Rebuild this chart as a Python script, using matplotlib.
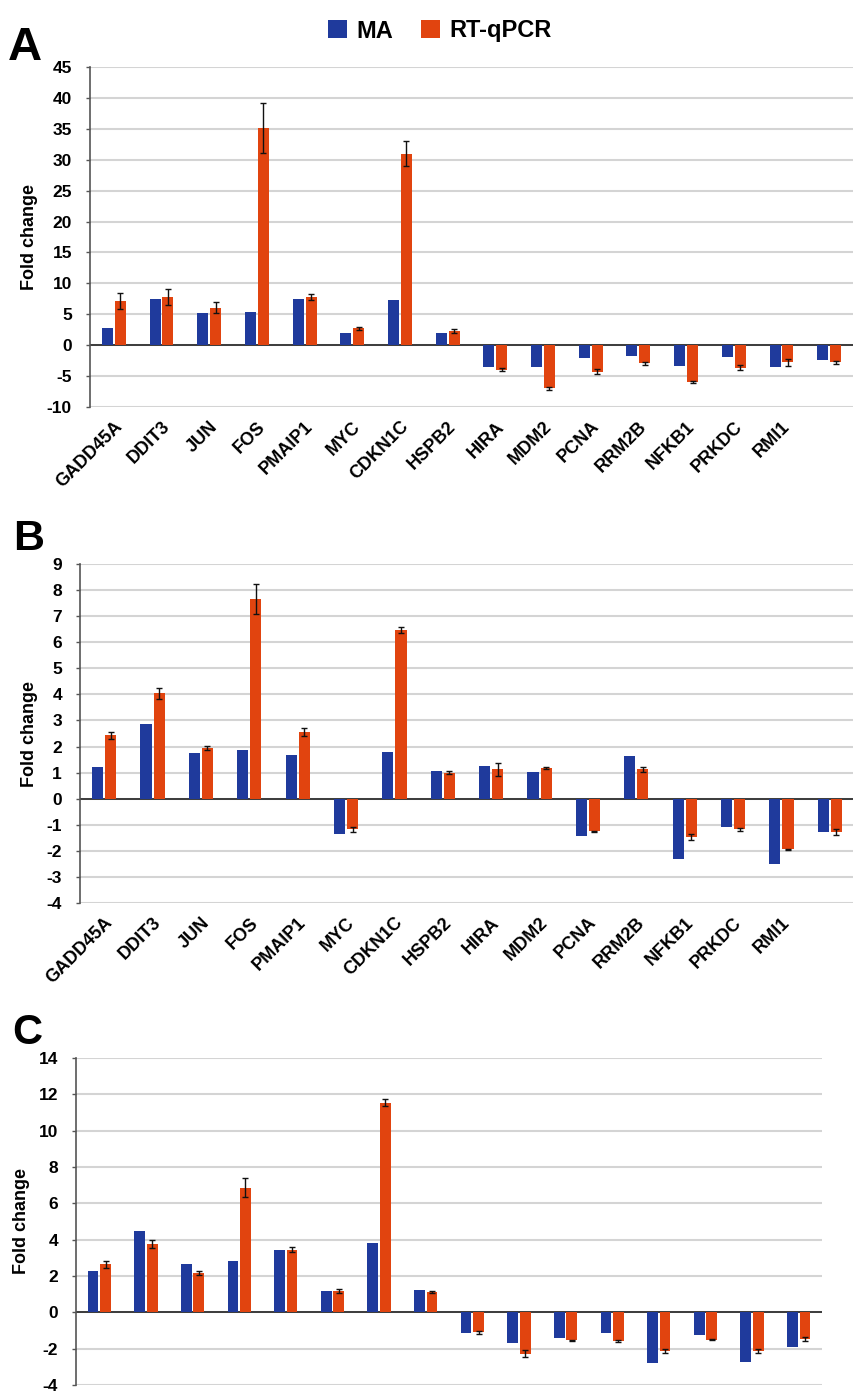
import numpy as np
import matplotlib
matplotlib.use("Agg")
import matplotlib.pyplot as plt
from matplotlib.patches import Patch

FONT = ["Liberation Sans Narrow", "Liberation Sans", "DejaVu Sans"]
plt.rcParams["font.family"] = FONT
plt.rcParams["font.weight"] = "bold"

genes = ["GADD45A", "DDIT3", "JUN", "FOS", "PMAIP1", "MYC", "CDKN1C", "HSPB2",
         "HIRA", "MDM2", "PCNA", "RRM2B", "NFKB1", "PRKDC", "RMI1", ""]

# Panel A
a_ma = [2.86, 7.44, 5.23, 5.39, 7.44, 1.94, 7.33, 2.05,
        -3.61, -3.61, -2.05, -1.72, -3.34, -1.89, -3.61, -2.32]
a_pcr = [7.17, 7.82, 6.04, 35.15, 7.82, 2.70, 31.0, 2.32,
         -3.94, -7.0, -4.31, -2.96, -5.93, -3.67, -2.8, -2.75]
a_err = [1.25, 1.27, 0.88, 4.0, 0.45, 0.2, 1.95, 0.27,
         0.3, 0.3, 0.43, 0.3, 0.2, 0.4, 0.5, 0.25]

# Panel B
b_ma = [1.21, 2.85, 1.74, 1.85, 1.67, -1.37, 1.79, 1.06,
        1.25, 1.03, -1.43, 1.63, -2.32, -1.07, -2.49, -1.26]
b_pcr = [2.43, 4.04, 1.95, 7.66, 2.55, -1.18, 6.46, 1.0,
         1.12, 1.17, -1.24, 1.12, -1.47, -1.18, -1.94, -1.28]
b_err = [0.13, 0.2, 0.08, 0.56, 0.16, 0.08, 0.11, 0.05,
         0.24, 0.03, 0.02, 0.08, 0.11, 0.06, 0.02, 0.1]

# Panel C
c_ma = [2.27, 4.45, 2.64, 2.82, 3.42, 1.18, 3.8, 1.22,
        -1.15, -1.67, -1.42, -1.15, -2.78, -1.27, -2.75, -1.89]
c_pcr = [2.64, 3.76, 2.15, 6.87, 3.45, 1.18, 11.55, 1.13,
         -1.1, -2.27, -1.55, -1.58, -2.13, -1.51, -2.13, -1.47]
c_err = [0.18, 0.22, 0.12, 0.53, 0.14, 0.13, 0.18, 0.05,
         0.1, 0.17, 0.03, 0.08, 0.12, 0.03, 0.12, 0.11]

BLUE = "#1f3a9c"
ORANGE = "#e1440f"

W, H = 854, 1394
fig = plt.figure(figsize=(W / 100, H / 100), dpi=100)


def px_axes(left, top, right, bottom):
    return fig.add_axes([left / W, 1 - bottom / H, (right - left) / W, (bottom - top) / H])


def panel(ax, ma, pcr, err, yticks, letter, letter_xy, letter_size, show_labels=True):
    x = np.arange(len(genes))
    off, bw = 0.135, 0.23
    ax.bar(x - off, ma, width=bw, color=BLUE, zorder=3)
    ax.bar(x + off, pcr, width=bw, color=ORANGE, zorder=3,
           yerr=err, error_kw=dict(ecolor="#111111", elinewidth=1.0,
                                   capsize=2.5, capthick=1.0, zorder=4))
    ax.set_xlim(-0.5, len(genes) - 0.5)
    ax.set_ylim(yticks[0], yticks[-1])
    ax.set_yticks(yticks)
    ax.set_yticklabels([str(t) for t in yticks], fontsize=12.5, fontweight="bold")
    ax.yaxis.grid(True, color="#d4d4d4", linewidth=1.5, zorder=0)
    ax.set_axisbelow(True)
    ax.axhline(0, color="#222222", linewidth=1.2, zorder=2)
    for s in ("top", "right", "bottom"):
        ax.spines[s].set_visible(False)
    ax.spines["left"].set_color("#555555")
    ax.spines["left"].set_linewidth(1.2)
    ax.tick_params(axis="y", length=3, width=1, color="#555555", pad=10)
    ax.set_xticks(x)
    if show_labels:
        ax.set_xticklabels(genes, rotation=45, ha="right", va="top",
                           rotation_mode="anchor", fontsize=13, fontweight="bold")
    else:
        ax.set_xticklabels([])
    ax.tick_params(axis="x", length=0, pad=8)
    ax.set_ylabel("Fold change", fontsize=13, fontweight="bold", labelpad=6)
    fig.text(letter_xy[0] / W, 1 - letter_xy[1] / H, letter, fontsize=letter_size,
             fontweight="bold", ha="left", va="baseline")


axA = px_axes(90, 67, 853, 407)
panel(axA, a_ma, a_pcr, a_err, list(range(-10, 46, 5)), "A", (8, 60), 34)

axB = px_axes(80, 564, 854, 903)
panel(axB, b_ma, b_pcr, b_err, list(range(-4, 10, 1)), "B", (13, 550), 31)

axC = px_axes(76, 1058, 822, 1385)
panel(axC, c_ma, c_pcr, c_err, list(range(-4, 15, 2)), "C", (12, 1044), 30,
      show_labels=False)

handles = [Patch(facecolor=BLUE, label="MA"), Patch(facecolor=ORANGE, label="RT-qPCR")]
fig.legend(handles=handles, loc="center", bbox_to_anchor=(440 / W, 1 - 31 / H),
           ncol=2, frameon=False, prop=dict(family=FONT, weight="bold", size=17),
           handlelength=0.8, handleheight=0.8, handletextpad=0.4, columnspacing=1.2)

fig.savefig("out.png", dpi=100)
